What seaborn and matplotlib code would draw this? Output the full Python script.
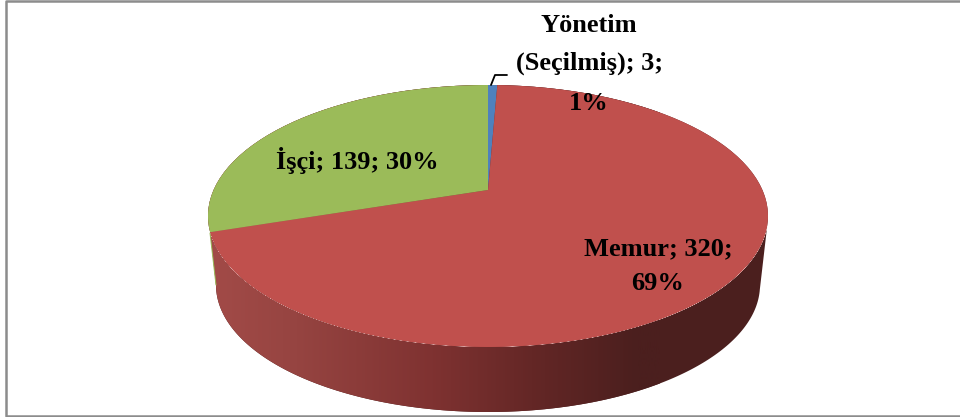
import numpy as np
import matplotlib
matplotlib.use('Agg')
import matplotlib.pyplot as plt
from matplotlib.colors import LinearSegmentedColormap
from matplotlib.lines import Line2D
from matplotlib.patches import PathPatch
from matplotlib.path import Path
import seaborn as sns

names = ['Yönetim (Seçilmiş)', 'Memur', 'İşçi']
values = [3, 320, 139]
percents = [1, 69, 30]
colors = ['#4F81BD', '#C0504D', '#9BBB59']

sns.set_theme(style='white')
plt.rcParams['font.family'] = ['Liberation Serif', 'DejaVu Serif']

W, H = 960, 417
CX, CY, RX, RY = 488, 216, 280, 131     # top ellipse, pixels
BY, BRX, BRY = 285, 272, 127            # bottom ellipse, pixels
APEX = (CY - 190) / RY                  # where the slices meet, above the ellipse centre


def px(x, y):
    return (x - CX) / RX, (CY - y) / RY


def persp(x, y):
    # tilt of the pie: keeps the circle an ellipse and moves its centre up
    d = 1 + APEX * y
    return np.sqrt(1 - APEX ** 2) * x / d, (y + APEX) / d


fig = plt.figure(figsize=(W / 100, H / 100), dpi=100)
ax = fig.add_axes([0, 0, 1, 1])

wedges, _ = ax.pie(values, colors=colors, startangle=90, counterclock=False, radius=1,
                   wedgeprops={'linewidth': 0})
for w in wedges:
    t = np.radians(np.linspace(w.theta1, w.theta2, 200))
    xs, ys = persp(np.r_[0, np.cos(t)], np.r_[0, np.sin(t)])
    ax.fill(xs, ys, color=w.get_facecolor(), lw=0, zorder=3)
    w.set_visible(False)

# side wall of the red slice, starts where red meets green on the rim
gx, gy = persp(np.cos(np.radians(wedges[2].theta2)), np.sin(np.radians(wedges[2].theta2)))
green_edge = np.degrees(np.arctan2(gy, gx)) - 360
t_top = np.radians(np.linspace(green_edge, -2, 200))
t_bot = np.radians(np.linspace(-2, -180, 200))
wall_x = np.concatenate([np.cos(t_top), BRX / RX * np.cos(t_bot)])
wall_y = np.concatenate([np.sin(t_top), (CY - BY) / RY + BRY / RY * np.sin(t_bot)])
wall = Path(np.column_stack([wall_x, wall_y]))
patch = PathPatch(wall, fc='#4B1F1E', ec='none', zorder=1.5)
ax.add_patch(patch)

wall_cmap = LinearSegmentedColormap.from_list('wall', [
    (0.00, '#A34B48'), (0.20, '#964441'), (0.50, '#7F3231'),
    (0.72, '#642726'), (0.95, '#4B1F1E'), (1.00, '#4B1F1E')])
x0, _ = px(205, 0)
x1, _ = px(660, 0)
img = ax.imshow(np.linspace(0, 1, 256)[None, :], cmap=wall_cmap, aspect='auto',
                extent=[x0, x1, -3, 1], zorder=2)
img.set_clip_path(patch)

# thin bit of the green wall on the far left
sx, sy = zip(*[px(210, 233), px(216, 285)])
ax.plot(sx, sy, color='#9BBB59', lw=0.7, zorder=2.5)

ax.set_aspect('auto')
ax.set_xlim(px(0, 0)[0], px(W, 0)[0])
ax.set_ylim(px(0, H)[1], px(0, 0)[1])
ax.axis('off')

lbl = dict(ha='center', va='center', fontsize=19, fontweight='bold', color='black', zorder=5)
ax.text(*px(589, 26), 'Yönetim', **lbl)
ax.text(*px(589, 63), f'(Seçilmiş); {values[0]};', **lbl)
ax.text(*px(589, 103), f'{percents[0]}%', **lbl)
ax.text(*px(658, 249), f'{names[1]}; {values[1]};', **lbl)
ax.text(*px(658, 283), f'{percents[1]}%', **lbl)
ax.text(*px(357, 161), f'{names[2]}; {values[2]}; {percents[2]}%', **lbl)

lx, ly = zip(*[px(491, 85), px(495, 75), px(507, 75)])
ax.plot(lx, ly, color='black', lw=1.3, zorder=5)

# chart frame: left, top and bottom edges show
frame_x = [W, 6, 6, W]
frame_y = [1, 1, 416, 416]
fig.add_artist(Line2D([x / W for x in frame_x], [1 - y / H for y in frame_y],
                      transform=fig.transFigure, color='#8C8C8C', lw=1.8))

fig.savefig('out.png', dpi=100, facecolor='white')
